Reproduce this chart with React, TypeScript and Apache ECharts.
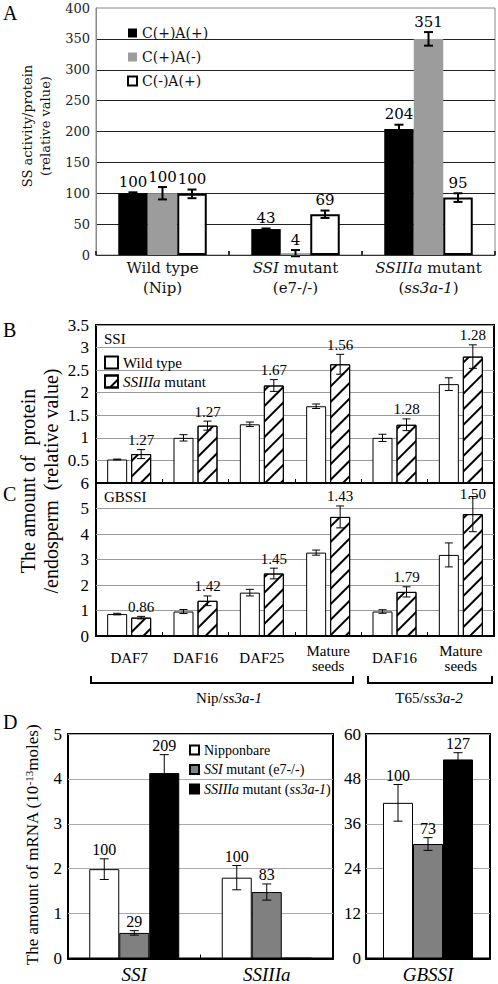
import React, { useEffect, useRef } from 'react';
import * as echarts from 'echarts';

const SERIF_A = 'DejaVu Serif';
const SERIF = 'Liberation Serif';

// ---------- Panel A ----------
const catsA = ['Wild type\n(Nip)', '{i|SSI} mutant\n(e7-/-)', '{i|SSIIIa} mutant\n({i|ss3a-1})'];
const namesA = ['C(+)A(+)', 'C(+)A(-)', 'C(-)A(+)'];
const aCpAp = [100, 42, 204];
const aCpAm = [100, 3, 350];
const aCmAp = [99, 66, 93];
const aErrCpAp = [1.5, 1, 7];
const aErrCpAm = [10, 5, 11];
const aErrCmAp = [7, 6, 7];
const aLblCpAp = ['100', '43', '204'];
const aLblCpAm = ['100', '4', '351'];
const aLblCmAp = ['100', '69', '95'];

// ---------- Panels B / C ----------
const catsBC = ['DAF7', 'DAF16', 'DAF25', 'Mature\nseeds', 'DAF16', 'Mature\nseeds'];
const namesBC = ['Wild type', 'SSIIIa mutant'];
const bWild = [0.52, 1.0, 1.3, 1.7, 1.0, 2.19];
const bWildErr = [0.01, 0.07, 0.05, 0.05, 0.08, 0.14];
const bMut = [0.64, 1.27, 2.16, 2.63, 1.29, 2.8];
const bMutErr = [0.1, 0.1, 0.13, 0.22, 0.13, 0.26];
const bRatio = ['1.27', '1.27', '1.67', '1.56', '1.28', '1.28'];
const cWild = [0.86, 0.96, 1.7, 3.27, 0.96, 3.18];
const cWildErr = [0.03, 0.08, 0.13, 0.1, 0.07, 0.47];
const cMut = [0.72, 1.38, 2.45, 4.67, 1.73, 4.78];
const cMutErr = [0.05, 0.19, 0.21, 0.43, 0.2, 0.69];
const cRatio = ['0.86', '1.42', '1.45', '1.43', '1.79', '1.50'];

// ---------- Panel D ----------
const catsD1 = ['SSI', 'SSIIIa'];
const catsD2 = ['GBSSI'];
const namesD = ['Nipponbare', 'SSI mutant (e7-/-)', 'SSIIIa mutant (ss3a-1)'];
const dNip = [1.99, 1.8];
const dNipErr = [0.23, 0.27];
const dSsi = [0.57, 1.48];
const dSsiErr = [0.05, 0.18];
const dSs3 = [4.13, 0.01];
const dSs3Err = [0.41, 0];
const dLblNip = ['100', '100'];
const dLblSsi = ['29', '83'];
const dLblSs3 = ['209', ''];
const gNip = [41.6];
const gNipErr = [4.9];
const gSsi = [30.6];
const gSsiErr = [1.7];
const gSs3 = [53.2];
const gSs3Err = [1.8];
const gLblNip = ['100'];
const gLblSsi = ['73'];
const gLblSs3 = ['127'];

const richLegend: Record<string, string> = {
  'SSIIIa mutant': '{i|SSIIIa} mutant',
  'SSI mutant (e7-/-)': '{i|SSI} mutant (e7-/-)',
  'SSIIIa mutant (ss3a-1)': '{i|SSIIIa} mutant ({i|ss3a-1})',
};

type Grp = { vals: number[]; errs: number[]; labels?: string[]; off: number };

function mkErr(xi: number, yi: number, groups: Grp[], o: { lw: number; cap: number; size: number; family: string; gap: number; clampVal?: number; clampPx?: number }) {
  const data: number[][] = [];
  const lbl: string[] = [];
  groups.forEach((g) =>
    g.vals.forEach((v, i) => {
      data.push([i, v - g.errs[i], v + g.errs[i], g.off]);
      lbl.push(g.labels ? g.labels[i] : '');
    })
  );
  return {
    type: 'custom',
    xAxisIndex: xi,
    yAxisIndex: yi,
    z: 5,
    silent: true,
    data,
    renderItem: (params: any, api: any) => {
      const c = api.value(0);
      const lo = api.value(1);
      const hi = api.value(2);
      const off = api.value(3);
      const p0 = api.coord([c, lo]);
      const p1 = api.coord([c, hi]);
      const x = p0[0] + off;
      const children: any[] = [];
      const st = { stroke: '#000', lineWidth: o.lw };
      if (hi - lo > 1e-9) {
        children.push({ type: 'line', shape: { x1: x, y1: p0[1], x2: x, y2: p1[1] }, style: st });
        children.push({ type: 'line', shape: { x1: x - o.cap, y1: p0[1], x2: x + o.cap, y2: p0[1] }, style: st });
        children.push({ type: 'line', shape: { x1: x - o.cap, y1: p1[1], x2: x + o.cap, y2: p1[1] }, style: st });
      }
      const t = lbl[params.dataIndex];
      if (t) {
        let y = p1[1] - o.gap;
        if (o.clampVal !== undefined) {
          const top = api.coord([c, o.clampVal])[1];
          y = Math.max(y, top + (o.clampPx || 0));
        }
        children.push({
          type: 'text',
          x,
          y,
          style: { text: t, fontSize: o.size, fontFamily: o.family, fill: '#000', align: 'center', verticalAlign: 'bottom', textAlign: 'center', textVerticalAlign: 'bottom' },
        });
      }
      return { type: 'group', children };
    },
  };
}

const hatch = {
  symbol: 'rect',
  symbolSize: 1,
  color: '#000',
  backgroundColor: '#fff',
  dashArrayX: [1, 0],
  dashArrayY: [2, 9],
  rotation: -Math.PI / 4,
};

const txt = (x: number, y: number, text: string, size: number, family: string, extra: any = {}, elExtra: any = {}) => ({
  type: 'text',
  x,
  y,
  ...elExtra,
  style: { text, fontSize: size, fontFamily: family, fill: '#000', ...extra },
});

export default function App() {
  const ref = useRef<HTMLDivElement>(null);
  useEffect(() => {
    if (!ref.current) return;
    const chart = echarts.init(ref.current, undefined, { renderer: 'svg' });

    const catAxisBase = (gi: number, data: string[], extra: any = {}) => ({
      type: 'category',
      gridIndex: gi,
      data,
      z: 10,
      axisTick: { show: true, inside: true, length: 4, lineStyle: { color: '#000' } },
      splitLine: { show: false },
      ...extra,
    });
    const center = { textAlign: 'center', textVerticalAlign: 'middle', align: 'center', verticalAlign: 'middle' };

    const option: any = {
      animation: false,
      backgroundColor: '#fff',
      textStyle: { fontFamily: SERIF },
      grid: [
        { left: 96, top: 8, width: 399, height: 247, show: true, borderColor: '#888', borderWidth: 1, backgroundColor: 'transparent' },
        { left: 96, top: 325, width: 398, height: 158, show: true, borderColor: '#000', borderWidth: 2, backgroundColor: 'transparent' },
        { left: 96, top: 483, width: 398, height: 153, show: true, borderColor: '#000', borderWidth: 2, backgroundColor: 'transparent' },
        { left: 68, top: 734, width: 265, height: 225, show: true, borderColor: '#000', borderWidth: 2, backgroundColor: 'transparent' },
        { left: 366, top: 734, width: 124, height: 225, show: true, borderColor: '#000', borderWidth: 2, backgroundColor: 'transparent' },
      ],
      xAxis: [
        catAxisBase(0, catsA, {
          axisLine: { lineStyle: { color: '#333', width: 1 } },
          axisTick: { show: true, inside: true, length: 4, lineStyle: { color: '#333', width: 2 } },
          axisLabel: {
            interval: 0,
            margin: 23,
            verticalAlign: 'middle',
            fontFamily: SERIF_A,
            fontSize: 15,
            lineHeight: 20,
            color: '#111',
            rich: { i: { fontStyle: 'italic', fontFamily: SERIF_A, fontSize: 15, lineHeight: 20, color: '#111' } },
          },
        }),
        catAxisBase(1, catsBC, {
          axisLine: { show: true, lineStyle: { color: '#000', width: 2 } },
          axisLabel: { show: false },
        }),
        catAxisBase(2, catsBC, {
          axisLine: { show: true, lineStyle: { color: '#000', width: 2 } },
          axisLabel: { interval: 0, margin: 22, verticalAlign: 'middle', fontFamily: SERIF, fontSize: 15, lineHeight: 15, color: '#000' },
        }),
        catAxisBase(3, catsD1, {
          axisLine: { show: true, lineStyle: { color: '#000', width: 2 } },
          axisLabel: { interval: 0, margin: 16, verticalAlign: 'middle', fontFamily: SERIF, fontStyle: 'italic', fontSize: 19, color: '#000' },
        }),
        catAxisBase(4, catsD2, {
          axisLine: { show: true, lineStyle: { color: '#000', width: 2 } },
          axisTick: { show: false },
          axisLabel: { interval: 0, margin: 16, verticalAlign: 'middle', fontFamily: SERIF, fontStyle: 'italic', fontSize: 19, color: '#000' },
        }),
      ],
      yAxis: [
        {
          type: 'value', gridIndex: 0, min: 0, max: 400, interval: 50,
          axisLine: { show: true, lineStyle: { color: '#888' } },
          axisTick: { show: false },
          axisLabel: { margin: 6, fontFamily: SERIF_A, fontSize: 13, color: '#222' },
          splitLine: { show: true, showMaxLine: false, lineStyle: { color: '#222', width: 1 } },
        },
        {
          type: 'value', gridIndex: 1, min: 0, max: 3.5, interval: 0.5,
          axisLine: { show: false }, axisTick: { show: false },
          axisLabel: { margin: 7, fontFamily: SERIF, fontSize: 17, color: '#000', formatter: (v: number) => (v === 0 ? '' : String(v)) },
          splitLine: { show: true, lineStyle: { color: '#9a9a9a', width: 1 } },
        },
        {
          type: 'value', gridIndex: 2, min: 0, max: 6, interval: 1,
          axisLine: { show: false }, axisTick: { show: false },
          axisLabel: { margin: 7, fontFamily: SERIF, fontSize: 17, color: '#000' },
          splitLine: { show: true, lineStyle: { color: '#9a9a9a', width: 1 } },
        },
        {
          type: 'value', gridIndex: 3, min: 0, max: 5, interval: 1,
          axisLine: { show: false }, axisTick: { show: false },
          axisLabel: { margin: 6, fontFamily: SERIF, fontSize: 17, color: '#000' },
          splitLine: { show: true, lineStyle: { color: '#aaa', width: 1 } },
        },
        {
          type: 'value', gridIndex: 4, min: 0, max: 60, interval: 12,
          axisLine: { show: false }, axisTick: { show: false },
          axisLabel: { margin: 5, fontFamily: SERIF, fontSize: 17, color: '#000' },
          splitLine: { show: true, lineStyle: { color: '#aaa', width: 1 } },
        },
      ],
      legend: [
        {
          data: namesA, left: 127, top: 25, orient: 'vertical', icon: 'rect', itemWidth: 9, itemHeight: 9, itemGap: 8, padding: 0,
          selectedMode: false,
          textStyle: { fontFamily: SERIF_A, fontSize: 14, lineHeight: 16, color: '#111' },
        },
        {
          data: namesBC, left: 104, top: 355, orient: 'vertical', icon: 'rect', itemWidth: 13, itemHeight: 12, itemGap: 4, padding: 0,
          selectedMode: false,
          formatter: (n: string) => richLegend[n] || n,
          textStyle: { fontFamily: SERIF, fontSize: 15, lineHeight: 14, color: '#000', rich: { i: { fontFamily: SERIF, fontStyle: 'italic', fontSize: 15, lineHeight: 14 } } },
        },
        {
          data: namesD, left: 189, top: 743, orient: 'vertical', icon: 'rect', itemWidth: 9, itemHeight: 9, itemGap: 5.5, padding: 0,
          selectedMode: false,
          formatter: (n: string) => richLegend[n] || n,
          textStyle: { fontFamily: SERIF, fontSize: 14, lineHeight: 14, color: '#000', rich: { i: { fontFamily: SERIF, fontStyle: 'italic', fontSize: 14, lineHeight: 14 } } },
        },
      ],
      series: [
        // A
        { name: namesA[0], type: 'bar', xAxisIndex: 0, yAxisIndex: 0, data: aCpAp, barWidth: 29.5, barGap: '0%', itemStyle: { color: '#000' } },
        { name: namesA[1], type: 'bar', xAxisIndex: 0, yAxisIndex: 0, data: aCpAm, barWidth: 29.5, barGap: '0%', itemStyle: { color: '#9c9c9c' } },
        { name: namesA[2], type: 'bar', xAxisIndex: 0, yAxisIndex: 0, data: aCmAp, barWidth: 29.5, barGap: '0%', itemStyle: { color: '#fff', borderColor: '#000', borderWidth: 2 } },
        mkErr(0, 0, [
          { vals: aCpAp, errs: aErrCpAp, labels: aLblCpAp, off: -29.5 },
          { vals: aCpAm, errs: aErrCpAm, labels: aLblCpAm, off: 0 },
          { vals: aCmAp, errs: aErrCmAp, labels: aLblCmAp, off: 29.5 },
        ], { lw: 2, cap: 4.5, size: 15, family: SERIF_A, gap: 3 }),
        // B
        { name: namesBC[0], type: 'bar', xAxisIndex: 1, yAxisIndex: 1, data: bWild, barWidth: 20, barGap: '20%', itemStyle: { color: '#fff', borderColor: '#000', borderWidth: 1 } },
        { name: namesBC[1], type: 'bar', xAxisIndex: 1, yAxisIndex: 1, data: bMut, barWidth: 20, barGap: '20%', itemStyle: { color: '#fff', borderColor: '#000', borderWidth: 1, decal: hatch } },
        mkErr(1, 1, [
          { vals: bWild, errs: bWildErr, off: -12 },
          { vals: bMut, errs: bMutErr, labels: bRatio, off: 12 },
        ], { lw: 1, cap: 4, size: 15, family: SERIF, gap: 2 }),
        // C
        { name: namesBC[0], type: 'bar', xAxisIndex: 2, yAxisIndex: 2, data: cWild, barWidth: 20, barGap: '20%', itemStyle: { color: '#fff', borderColor: '#000', borderWidth: 1 } },
        { name: namesBC[1], type: 'bar', xAxisIndex: 2, yAxisIndex: 2, data: cMut, barWidth: 20, barGap: '20%', itemStyle: { color: '#fff', borderColor: '#000', borderWidth: 1, decal: hatch } },
        mkErr(2, 2, [
          { vals: cWild, errs: cWildErr, off: -12 },
          { vals: cMut, errs: cMutErr, labels: cRatio, off: 12 },
        ], { lw: 1, cap: 4, size: 15, family: SERIF, gap: 2, clampVal: 6, clampPx: 18 }),
        // D left
        { name: namesD[0], type: 'bar', xAxisIndex: 3, yAxisIndex: 3, data: dNip, barWidth: 30, barGap: '0%', itemStyle: { color: '#fff', borderColor: '#000', borderWidth: 1 } },
        { name: namesD[1], type: 'bar', xAxisIndex: 3, yAxisIndex: 3, data: dSsi, barWidth: 30, barGap: '0%', itemStyle: { color: '#808080', borderColor: '#000', borderWidth: 1 } },
        { name: namesD[2], type: 'bar', xAxisIndex: 3, yAxisIndex: 3, data: dSs3, barWidth: 30, barGap: '0%', itemStyle: { color: '#000', borderColor: '#000', borderWidth: 1 } },
        mkErr(3, 3, [
          { vals: dNip, errs: dNipErr, labels: dLblNip, off: -30 },
          { vals: dSsi, errs: dSsiErr, labels: dLblSsi, off: 0 },
          { vals: dSs3, errs: dSs3Err, labels: dLblSs3, off: 30 },
        ], { lw: 1, cap: 4.5, size: 16, family: SERIF, gap: 1 }),
        // D right
        { name: namesD[0], type: 'bar', xAxisIndex: 4, yAxisIndex: 4, data: gNip, barWidth: 30, barGap: '0%', itemStyle: { color: '#fff', borderColor: '#000', borderWidth: 1 } },
        { name: namesD[1], type: 'bar', xAxisIndex: 4, yAxisIndex: 4, data: gSsi, barWidth: 30, barGap: '0%', itemStyle: { color: '#808080', borderColor: '#000', borderWidth: 1 } },
        { name: namesD[2], type: 'bar', xAxisIndex: 4, yAxisIndex: 4, data: gSs3, barWidth: 30, barGap: '0%', itemStyle: { color: '#000', borderColor: '#000', borderWidth: 1 } },
        mkErr(4, 4, [
          { vals: gNip, errs: gNipErr, labels: gLblNip, off: -30 },
          { vals: gSsi, errs: gSsiErr, labels: gLblSsi, off: 0 },
          { vals: gSs3, errs: gSs3Err, labels: gLblSs3, off: 30 },
        ], { lw: 1, cap: 4.5, size: 16, family: SERIF, gap: 1 }),
      ],
      graphic: [
        txt(3, 3, 'A', 20, SERIF),
        txt(3, 320, 'B', 20, SERIF),
        txt(3, 484, 'C', 20, SERIF),
        txt(3, 712, 'D', 20, SERIF),
        txt(36, 126, 'SS activity/protein\n(relative value)', 13, SERIF_A, { lineHeight: 18, fill: '#111', ...center }, { rotation: Math.PI / 2 }),
        txt(39, 481, 'The amount of  protein\n/endosperm  (relative value)', 20, SERIF, { lineHeight: 23, ...center }, { rotation: Math.PI / 2 }),
        txt(32, 845, 'The amount of mRNA (10{sup|-13}moles)', 17, SERIF, {
          lineHeight: 17, ...center,
          rich: { sup: { fontSize: 11, fontFamily: SERIF, verticalAlign: 'top', lineHeight: 17 } },
        }, { rotation: Math.PI / 2 }),
        txt(104, 331, 'SSI', 15, SERIF),
        txt(104, 489, 'GBSSI', 15, SERIF),
        { type: 'polyline', shape: { points: [[91, 676], [91, 683], [353, 683], [353, 676]] }, style: { stroke: '#000', lineWidth: 2, fill: 'none' } },
        { type: 'polyline', shape: { points: [[368, 676], [368, 683], [492, 683], [492, 676]] }, style: { stroke: '#000', lineWidth: 2, fill: 'none' } },
        txt(229, 698, 'Nip/{i|ss3a-1}', 15, SERIF, { ...center, rich: { i: { fontStyle: 'italic', fontFamily: SERIF, fontSize: 15 } } }),
        txt(429, 698, 'T65/{i|ss3a-2}', 15, SERIF, { ...center, rich: { i: { fontStyle: 'italic', fontFamily: SERIF, fontSize: 15 } } }),
      ],
    };
    chart.setOption(option);
    return () => chart.dispose();
  }, []);
  return <div ref={ref} style={{ position: 'absolute', left: 0, top: 0, width: 498, height: 984, background: '#fff' }} />;
}
